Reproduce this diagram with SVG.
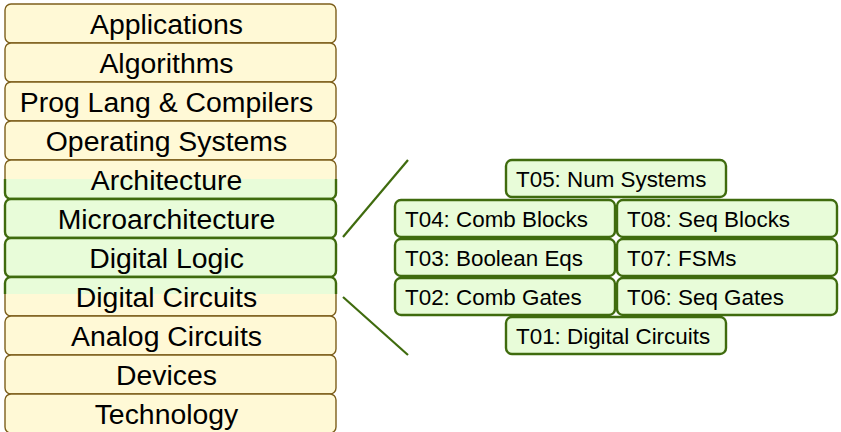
<svg xmlns="http://www.w3.org/2000/svg" width="841" height="432" viewBox="0 0 841 432">
  <style>
    .lay { fill: #FFF9D6; stroke: #7D5F1C; stroke-width: 1.4; }
    .hl { fill: #E8FCD9; stroke: #3F6B0E; stroke-width: 2.4; }
    .lab { font-family: "Liberation Sans", Arial, sans-serif; font-size: 28.4px; fill: #000; text-anchor: middle; }
    .top { fill: #E8FCD9; stroke: #3F6B0E; stroke-width: 2.4; }
    .tl { font-family: "Liberation Sans", Arial, sans-serif; font-size: 22.4px; fill: #000; }
    .conn { stroke: #3F6B0E; stroke-width: 2.2; fill: none; }
  </style>
  <defs>
    <clipPath id="band">
      <rect x="0" y="179" width="345" height="115"/>
    </clipPath>
  </defs>
  <rect width="841" height="432" fill="#ffffff"/>

  <!-- abstraction layer stack -->
  <g id="layer-applications"><rect class="lay" x="5" y="4" width="331" height="39" rx="6"/><text class="lab" x="166.5" y="34">Applications</text></g>
  <g id="layer-algorithms"><rect class="lay" x="5" y="43" width="331" height="39" rx="6"/><text class="lab" x="166.5" y="73">Algorithms</text></g>
  <g id="layer-proglang"><rect class="lay" x="5" y="82" width="331" height="39" rx="6"/><text class="lab" x="166.5" y="112">Prog Lang &amp; Compilers</text></g>
  <g id="layer-os"><rect class="lay" x="5" y="121" width="331" height="39" rx="6"/><text class="lab" x="166.5" y="151">Operating Systems</text></g>
  <g id="layer-architecture"><rect class="lay" x="5" y="160" width="331" height="39" rx="6"/></g>
  <g id="layer-microarchitecture"><rect class="lay" x="5" y="199" width="331" height="39" rx="6"/></g>
  <g id="layer-digital-logic"><rect class="lay" x="5" y="238" width="331" height="39" rx="6"/></g>
  <g id="layer-digital-circuits"><rect class="lay" x="5" y="277" width="331" height="39" rx="6"/></g>
  <g id="layer-analog"><rect class="lay" x="5" y="316" width="331" height="39" rx="6"/><text class="lab" x="166.5" y="346">Analog Circuits</text></g>
  <g id="layer-devices"><rect class="lay" x="5" y="355" width="331" height="39" rx="6"/><text class="lab" x="166.5" y="385">Devices</text></g>
  <g id="layer-technology"><rect class="lay" x="5" y="394" width="331" height="39" rx="6"/><text class="lab" x="166.5" y="424">Technology</text></g>

  <!-- highlighted band covered by the course -->
  <g id="highlight-band" clip-path="url(#band)">
    <rect class="hl" x="5" y="160" width="331" height="39" rx="6"/>
    <rect class="hl" x="5" y="199" width="331" height="39" rx="6"/>
    <rect class="hl" x="5" y="238" width="331" height="39" rx="6"/>
    <rect class="hl" x="5" y="277" width="331" height="39" rx="6"/>
  </g>
  <g id="band-labels">
    <text class="lab" x="166.5" y="190">Architecture</text>
    <text class="lab" x="166.5" y="229">Microarchitecture</text>
    <text class="lab" x="166.5" y="268">Digital Logic</text>
    <text class="lab" x="166.5" y="307">Digital Circuits</text>
  </g>

  <!-- zoom lines -->
  <g id="connectors">
    <line class="conn" x1="343" y1="237" x2="408" y2="160"/>
    <line class="conn" x1="343" y1="297" x2="408" y2="355"/>
  </g>

  <!-- topic blocks -->
  <g id="t05"><rect class="top" x="506" y="160" width="220" height="37" rx="6"/><text class="tl" x="516" y="187">T05: Num Systems</text></g>
  <g id="t04"><rect class="top" x="395" y="200" width="220" height="37" rx="6"/><text class="tl" x="405" y="227">T04: Comb Blocks</text></g>
  <g id="t08"><rect class="top" x="617" y="200" width="220" height="37" rx="6"/><text class="tl" x="627" y="227">T08: Seq Blocks</text></g>
  <g id="t03"><rect class="top" x="395" y="239" width="220" height="37" rx="6"/><text class="tl" x="405" y="266">T03: Boolean Eqs</text></g>
  <g id="t07"><rect class="top" x="617" y="239" width="220" height="37" rx="6"/><text class="tl" x="627" y="266">T07: FSMs</text></g>
  <g id="t02"><rect class="top" x="395" y="278" width="220" height="37" rx="6"/><text class="tl" x="405" y="305">T02: Comb Gates</text></g>
  <g id="t06"><rect class="top" x="617" y="278" width="220" height="37" rx="6"/><text class="tl" x="627" y="305">T06: Seq Gates</text></g>
  <g id="t01"><rect class="top" x="506" y="317" width="220" height="37" rx="6"/><text class="tl" x="516" y="344">T01: Digital Circuits</text></g>
</svg>
